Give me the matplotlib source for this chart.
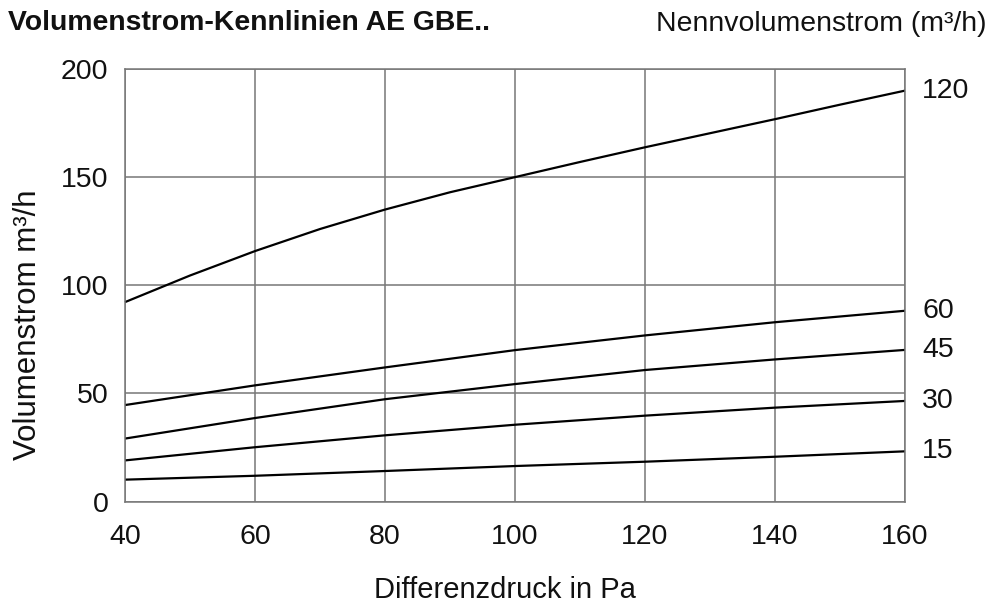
import matplotlib
matplotlib.use("Agg")
import matplotlib.pyplot as plt

plt.rcParams['font.family'] = ['Liberation Sans', 'DejaVu Sans']

# Data
dp_fine = [40, 50, 60, 70, 80, 90, 100, 110, 120, 130, 140, 150, 160]
q120 = [92.2, 104.5, 115.8, 126.0, 135.0, 143.0, 150.0, 157.0, 163.8, 170.3, 176.8, 183.5, 190.0]
dp = [40, 60, 80, 100, 120, 140, 160]
q60 = [44.6, 53.7, 62.0, 70.0, 76.8, 82.9, 88.2]
q45 = [29.1, 38.6, 47.3, 54.3, 60.8, 65.7, 70.1]
q30 = [19.0, 25.1, 30.6, 35.5, 39.7, 43.4, 46.5]
q15 = [10.1, 11.9, 14.1, 16.4, 18.4, 20.7, 23.2]
series = [("120", dp_fine, q120), ("60", dp, q60), ("45", dp, q45), ("30", dp, q30), ("15", dp, q15)]
x_ticks = [40, 60, 80, 100, 120, 140, 160]
y_ticks = [0, 50, 100, 150, 200]

W, H = 1000, 609
fig = plt.figure(figsize=(W / 100, H / 100), dpi=100)
ax = fig.add_axes([125 / W, 1 - 501.5 / H, 780 / W, 432.5 / H])

grid_col = "#777777"
ax.set_xlim(40, 160)
ax.set_ylim(0, 200)
ax.set_xticks(x_ticks)
ax.set_yticks(y_ticks)
ax.grid(True, color=grid_col, linewidth=1.1)
ax.set_axisbelow(True)
for s in ax.spines.values():
    s.set_color(grid_col)
    s.set_linewidth(1.1)
ax.tick_params(length=0, labelsize=20.5, colors="#111111")
ax.tick_params(axis="y", pad=12)
ax.tick_params(axis="x", pad=16)

for name, xs, vals in series:
    ax.plot(xs, vals, color="black", linewidth=1.6, solid_capstyle="butt",
            solid_joinstyle="round", clip_on=False)
    ax.annotate(name, xy=(xs[-1], vals[-1]), xytext=(12.5, 0), textcoords="offset points",
                ha="left", va="center", fontsize=20.5, color="#111111")

fig.text(8 / W, 1 - 23 / H, "Volumenstrom-Kennlinien AE GBE..", ha="left", va="center",
         fontsize=20.4, fontweight="bold", color="#111111")
fig.text(987 / W, 1 - 24 / H, "Nennvolumenstrom (m³/h)", ha="right", va="center",
         fontsize=20.4, color="#111111")
fig.text(505 / W, 1 - 590 / H, "Differenzdruck in Pa", ha="center", va="center",
         fontsize=21, color="#111111")
fig.text(28 / W, 1 - 325 / H, "Volumenstrom m³/h", ha="center", va="center",
         rotation=90, fontsize=22.5, color="#111111")

fig.savefig("out.png", dpi=100, facecolor="white")
